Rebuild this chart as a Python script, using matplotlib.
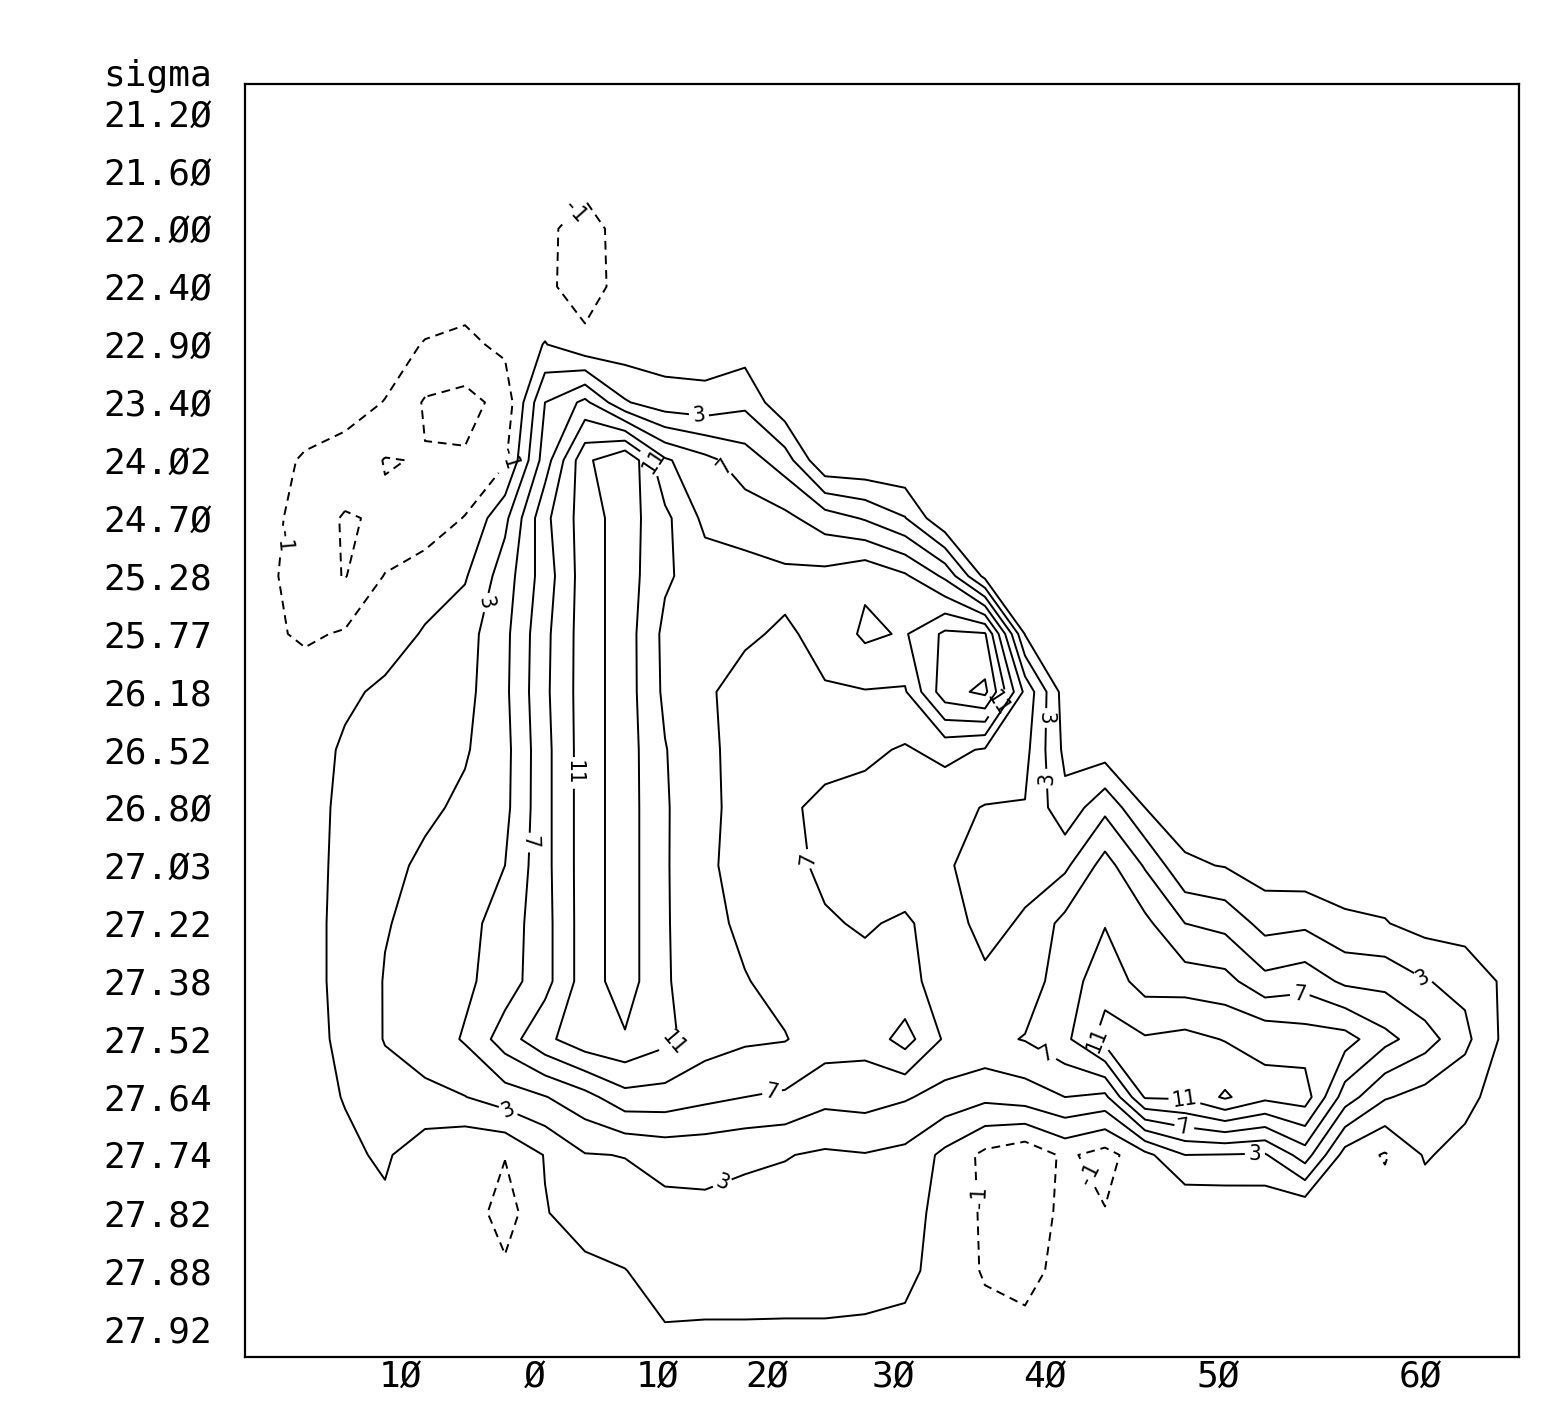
import numpy as np
import matplotlib.pyplot as plt

plt.rcParams['font.family'] = ['DejaVu Sans Mono', 'DejaVu Sans']
plt.rcParams['lines.dashed_pattern'] = [4.5, 3.0]

# rows = sigma surfaces (top to bottom)
sigma = [21.20, 21.60, 22.00, 22.40, 22.90, 23.40, 24.02, 24.70, 25.28, 25.77,
         26.18, 26.52, 26.80, 27.03, 27.22, 27.38, 27.52, 27.64, 27.74, 27.82,
         27.88, 27.92]

# latitude labels along the section (station index where each sits)
lat_vals = [-10, 0, 10, 20, 30, 40, 50, 60]
lat_pos = [3.375, 6.75, 9.8, 12.55, 15.7, 19.5, 23.83, 28.88]

# field values, one row per sigma surface, 32 stations
z = [
 [0]*32,
 [0]*8 + [-0.4] + [0]*23,
 [0]*7 + [-0.7, -1.6, -0.4] + [0]*22,
 [0]*7 + [-0.7, -1.7, -0.4] + [0]*22,
 [0, 0, 0, -0.3, -1.1, -1.5, -0.5, 1.1, -0.6, -0.2] + [0]*22,
 [0, 0, -0.4, -1.05, -3.2, -3.6, -2.4, 5, 7.5, 3.2, 1.8, 1.6, 2.5, -0.5] + [0]*18,
 [-0.3, -1.2, -1.6, -3.1, -2.9, -2.8, -1.3, 6, 12.5, 15, 9.3, 7.6, 6, 4, -0.9, -0.9, -0.9] + [0]*15,
 [-0.3, -1.8, -3.2, -2.7, -2.2, -0.9, 2.5, 8.5, 12, 14, 11.5, 8.5, 8, 7.5, 6, 4.8, 3.1, -0.8] + [0]*14,
 [-0.5, -2.0, -3.1, -0.9, 0, 0.8, 4, 8, 12, 14, 11.3, 10, 9.8, 9.4, 9.6, 10.6, 9.3, 6.6, 0.4] + [0]*13,
 [-0.6, -1.3, -0.8, 0, 1.2, 2.2, 4.5, 8.5, 12, 14, 10.5, 9.6, 9.2, 8.8, 9.4, 11.4, 10.8, 13.4, 13.2, 0.9] + [0]*12,
 [0, 0, 0.6, 1.4, 1.8, 2.4, 4.6, 8.6, 12, 14, 10.6, 9.2, 8.5, 8.3, 8.9, 8.9, 8.8, 14.2, 15.5, 6.5] + [0]*12,
 [0, 0, 1.3, 1.7, 2.0, 2.8, 4.4, 8.4, 12, 14, 11.1, 9.3, 8.5, 8.2, 7.6, 7.4, 6.8, 7.6, 6.8, 5.6, 0.5] + [0]*11,
 [0, 0.3, 1.4, 2.0, 2.6, 3.4, 4.5, 8.4, 12, 14, 11.2, 9.5, 8.3, 7.3, 6.6, 6.3, 6.2, 5.6, 4.9, 4.9, 1.6, 4.5, 1.0] + [0]*9,
 [0, 0.3, 1.5, 2.4, 3.4, 3.8, 5.0, 8.4, 12, 14, 11.2, 9.4, 8.2, 7.6, 6.6, 6.2, 5.8, 5.3, 4.0, 4.2, 4.6, 7.8, 4.8, 1.3, 0.9, 0, -0.3, -0.2, 0, 0, 0, 0],
 [0, 0.3, 1.6, 2.9, 3.5, 4.4, 5.8, 8.3, 12, 14, 11.2, 9.6, 8.6, 7.9, 7.2, 6.8, 7.3, 6.0, 4.3, 5.3, 7.6, 8.9, 7.5, 5.0, 4.4, 2.3, 2.6, 1.4, 1.1, 0.3, 0, 0],
 [0, 0.3, 1.6, 3.1, 3.6, 4.6, 6.0, 8.3, 12, 14, 11.2, 9.9, 9.1, 8.4, 7.9, 7.6, 7.5, 6.3, 5.4, 6.0, 8.0, 10.2, 8.2, 8.0, 7.7, 5.6, 6.2, 4.6, 4.4, 3.1, 2.5, 0.6],
 [0, 0.2, 1.5, 3.1, 3.8, 5.2, 8.0, 10.5, 12.3, 12.8, 11.5, 9.9, 9.3, 9.1, 8.0, 7.7, 9.8, 6.7, 6.5, 7.1, 8.5, 11.8, 11.2, 11.6, 10.9, 10.6, 10.0, 9.8, 7.6, 5.9, 3.5, 0.5],
 [0, 0.2, 1.1, 2.2, 2.6, 2.95, 4.0, 4.9, 6.3, 8.3, 8.2, 7.5, 7.0, 6.7, 5.6, 5.8, 5.2, 4.3, 3.5, 4.0, 5.0, 4.5, 11.2, 11.3, 13.3, 11.5, 12.0, 6.0, 3.2, 2.2, 1.6, 0],
 [0, 0.2, 0.6, 1.3, -0.3, -0.9, -0.9, 1.1, 2.9, 3.05, 3.6, 3.6, 3.3, 3.1, 2.7, 2.9, 2.5, 0.5, -1.5, -2.5, -0.6, -1.8, 0.4, 3.0, 2.9, 2.8, 6.0, 0.2, -1.2, 1.2, 0.3, 0],
 [0, 0, 0.2, 0.6, 0.3, 0.3, -2.0, 0.9, 1.8, 2.2, 2.5, 2.6, 2.4, 2.2, 2.0, 2.0, 1.8, 0.3, -1.3, -2.2, -0.5, -0.9, 0, -0.9, -0.7, -0.6, -0.9, 0, 0, 0, 0, 0],
 [0, 0, 0, 0, 0, 0, -0.6, 0.3, 0.6, 0.95, 1.8, 1.8, 1.8, 1.7, 1.7, 1.6, 1.5, 0.2, -1.2, -1.6, -0.4] + [0]*11,
 [0]*9 + [0.5, 0.9, 0.85, 0.85, 0.85, 0.85, 0.8, 0.6, 0, -0.4, -0.6] + [0]*12,
]

plain_levels = [-3, 1, 5, 9, 13, 15]
label_levels = [-1, 3, 7, 11]

# where the contour labels sit (station index, row index)
label_spots = [(7.5, 1.6), (6.25, 6.0), (0.33, 7.4), (10.9, 4.9), (11.5, 6.1),
               (9.75, 6.0), (19.4, 10.45), (18.1, 10.1), (5.8, 8.5), (19.55, 11.5),
               (7.75, 11.4), (6.45, 12.6), (13.4, 12.9), (28.9, 15.0), (25.9, 15.4),
               (10.25, 16.1), (20.6, 16.2), (23.0, 16.8), (19.35, 16.5), (12.7, 17.0),
               (6.1, 17.2), (24.75, 18.05), (11.5, 18.6), (20.6, 18.3), (18.1, 18.7),
               (23.0, 17.45)]

Z = np.array(z, dtype=float)
ny, nx = Z.shape
X, Y = np.meshgrid(np.arange(nx), np.arange(ny))

fig = plt.figure(figsize=(15.61, 14.11), dpi=100)
ax = fig.add_axes([245/1561, 1 - 1357/1411, 1274/1561, 1273/1411])

def line_styles(lvls):
    return ['dashed' if lv < 0 else 'solid' for lv in lvls]

ax.contour(X, Y, Z, levels=plain_levels, colors='black', linewidths=1.4,
           linestyles=line_styles(plain_levels))
cs = ax.contour(X, Y, Z, levels=label_levels, colors='black', linewidths=1.4,
                linestyles=line_styles(label_levels))
ax.clabel(cs, fmt='%d', inline=True, fontsize=15, manual=label_spots,
          inline_spacing=4)

ax.set_xlim(-0.5, 31.35)
ax.set_ylim(21.49, -0.5)

def zero_slash(s):
    return s.replace('0', 'Ø')

ax.set_yticks(range(ny))
ax.set_yticklabels([zero_slash(f"{s:.2f}") for s in sigma], fontsize=26)
ax.set_xticks(lat_pos)
ax.set_xticklabels([zero_slash(str(abs(v))) for v in lat_vals], fontsize=26)
ax.tick_params(length=0)
ax.tick_params(axis='y', pad=24)
ax.tick_params(axis='x', pad=2)
for sp in ax.spines.values():
    sp.set_linewidth(1.6)

fig.text(212/1561, 1 - 76/1411, 'sigma', fontsize=26, ha='right', va='center')

fig.savefig('out.png', dpi=100, facecolor='white')
